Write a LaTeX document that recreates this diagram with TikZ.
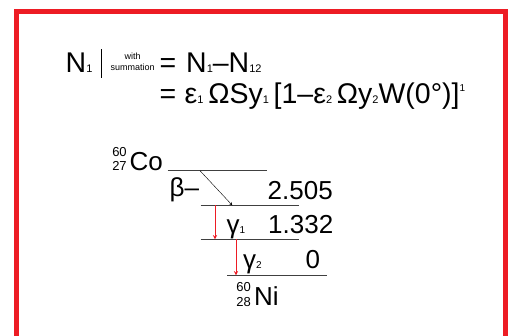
\documentclass[tikz,border=0pt]{standalone}
\usepackage{fontspec}
\setmainfont{Liberation Sans}
\usetikzlibrary{positioning}
\definecolor{framered}{RGB}{237,28,36}
\newcommand{\lo}[1]{{\fontsize{10}{10}\selectfont #1}}
\newcommand{\flo}[1]{{\fontsize{11}{11}\selectfont #1}}
\newcommand{\hi}[1]{\raisebox{11.5pt}{\fontsize{10}{10}\selectfont #1}}

\begin{document}
\begin{tikzpicture}[x=1pt,y=-1pt,
    txt/.style={inner sep=0pt, anchor=base west, font=\fontsize{26}{26}\selectfont},
    frm/.style={txt, font=\fontsize{28.5}{28.5}\selectfont},
    tiny/.style={inner sep=0pt, font=\fontsize{9}{9}\selectfont},
    iso/.style={inner sep=0pt, font=\fontsize{13}{13}\selectfont},
    level/.style={black!75, line width=0.9pt},
    gam/.style={->, framered, >=stealth, line width=0.9pt}]
  \useasboundingbox (0,0) rectangle (511,335);
  \draw[framered, line width=5pt] (16,11.5) rectangle (505,350);

  % formula
  \node[frm] (n1) at (65.5,72.7) {N\flo{1}};
  \draw[line width=1.2pt] (101.7,49) -- (101.7,78);
  \node[tiny] (with) at (132.7,56) {with};
  \node[tiny] (summ) at (132.7,67.7) {summation};
  \node[frm] (eqa) at (159.5,72.7) {=};
  \node[frm] (rhsa) at (186,72.7) {N\flo{1}–N\flo{12}};
  \node[frm] (eqb) at (159.5,103.3) {=};
  \node[frm] (rhsb) at (184.5,103.3)
    {ε\flo{1}\,ΩSy\flo{1}\,[1–ε\flo{2}\,Ωy\flo{2}W(0°)]\hi{1}};

  % decay scheme
  \node[iso] (coa) at (119.5,152) {60};
  \node[iso] (coz) at (119.5,166) {27};
  \node[txt] (co) at (129.5,170.7) {Co};
  \coordinate (l0w) at (167.7,170.7);
  \coordinate (l0e) at (266.7,170.7);
  \coordinate (l1w) at (200.7,205.3);
  \coordinate (l1e) at (299.3,205.3);
  \coordinate (l2w) at (200.7,239.3);
  \coordinate (l2e) at (299.3,239.3);
  \coordinate (l3w) at (227.3,275.3);
  \coordinate (l3e) at (326.7,275.3);
  \draw[level] (l0w) -- (l0e);
  \draw[level] (l1w) -- (l1e);
  \draw[level] (l2w) -- (l2e);
  \draw[level] (l3w) -- (l3e);

  \node[txt] (beta) at (169.5,196.7) {β–};
  \node[txt] (e1) at (267.5,199) {2.505};
  \node[txt] (e2) at (268,233.3) {1.332};
  \node[txt] (e3) at (305.5,268.3) {0};
  \node[txt] (g1) at (226.5,233.3) {γ\lo{1}};
  \node[txt] (g2) at (243,268.3) {γ\lo{2}};

  \coordinate (bs) at (200,170.7);
  \coordinate (be) at (232.3,205.3);
  \draw[->, >=stealth, thin] (bs) -- (be);
  \draw[gam] (215,205.3) -- (215,239.3);
  \draw[gam] (236,239.3) -- (236,275.3);

  \node[iso] (nia) at (243.5,286.7) {60};
  \node[iso] (niz) at (243.5,301.7) {28};
  \node[txt] (ni) at (254,305) {Ni};
\end{tikzpicture}
\end{document}
